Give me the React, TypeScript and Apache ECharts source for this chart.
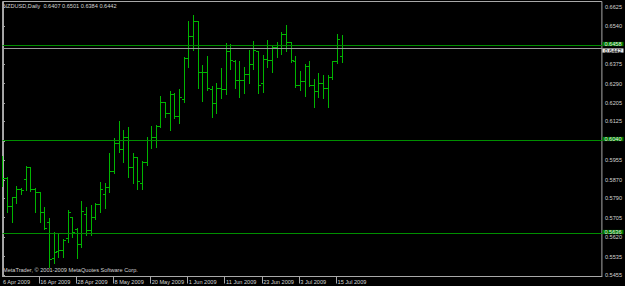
import React, { useEffect, useRef } from 'react';
import * as echarts from 'echarts';

const dates = [
  '6 Apr 2009','7 Apr 2009','8 Apr 2009','9 Apr 2009','10 Apr 2009','13 Apr 2009','14 Apr 2009','15 Apr 2009','16 Apr 2009','17 Apr 2009',
  '20 Apr 2009','21 Apr 2009','22 Apr 2009','23 Apr 2009','24 Apr 2009','27 Apr 2009','28 Apr 2009','29 Apr 2009','30 Apr 2009',
  '1 May 2009','4 May 2009','5 May 2009','6 May 2009','7 May 2009','8 May 2009','11 May 2009','12 May 2009','13 May 2009','14 May 2009','15 May 2009',
  '18 May 2009','19 May 2009','20 May 2009','21 May 2009','22 May 2009','25 May 2009','26 May 2009','27 May 2009','28 May 2009','29 May 2009',
  '1 Jun 2009','2 Jun 2009','3 Jun 2009','4 Jun 2009','5 Jun 2009','8 Jun 2009','9 Jun 2009','10 Jun 2009','11 Jun 2009','12 Jun 2009',
  '15 Jun 2009','16 Jun 2009','17 Jun 2009','18 Jun 2009','19 Jun 2009','22 Jun 2009','23 Jun 2009','24 Jun 2009','25 Jun 2009','26 Jun 2009',
  '29 Jun 2009','30 Jun 2009','1 Jul 2009','2 Jul 2009','3 Jul 2009','6 Jul 2009','7 Jul 2009','8 Jul 2009','9 Jul 2009','10 Jul 2009',
  '13 Jul 2009','14 Jul 2009','15 Jul 2009','16 Jul 2009',
];

const opens = [
  0.5940, 0.5878, 0.5752, 0.5791, 0.5830, 0.5870, 0.5922, 0.5826, 0.5813, 0.5726,
  0.5686, 0.5525, 0.5555, 0.5560, 0.5616, 0.5704, 0.5655, 0.5586, 0.5717, 0.5647,
  0.5704, 0.5761, 0.5804, 0.5835, 0.5905, 0.6027, 0.6001, 0.6057, 0.5922, 0.5966,
  0.5852, 0.5948, 0.6040, 0.6057, 0.6105, 0.6206, 0.6158, 0.6245, 0.6145, 0.6219,
  0.6400, 0.6494, 0.6560, 0.6341, 0.6341, 0.6263, 0.6202, 0.6267, 0.6263, 0.6429,
  0.6389, 0.6306, 0.6302, 0.6332, 0.6376, 0.6429, 0.6289, 0.6394, 0.6390, 0.6450,
  0.6459, 0.6507, 0.6470, 0.6385, 0.6280, 0.6298, 0.6363, 0.6284, 0.6258, 0.6293,
  0.6271, 0.6315, 0.6385, 0.6407,
];
const highs = [
  0.5975, 0.5883, 0.5795, 0.5844, 0.5835, 0.5931, 0.5926, 0.5835, 0.5817, 0.5752,
  0.5704, 0.5643, 0.5638, 0.5613, 0.5739, 0.5708, 0.5660, 0.5778, 0.5752, 0.5761,
  0.5769, 0.5861, 0.5857, 0.5988, 0.6053, 0.6127, 0.6088, 0.6101, 0.5988, 0.5970,
  0.5953, 0.6057, 0.6105, 0.6110, 0.6236, 0.6210, 0.6258, 0.6250, 0.6267, 0.6407,
  0.6564, 0.6590, 0.6564, 0.6372, 0.6411, 0.6280, 0.6293, 0.6359, 0.6468, 0.6463,
  0.6394, 0.6389, 0.6363, 0.6437, 0.6477, 0.6433, 0.6415, 0.6481, 0.6459, 0.6472,
  0.6516, 0.6546, 0.6474, 0.6411, 0.6346, 0.6376, 0.6389, 0.6311, 0.6337, 0.6328,
  0.6328, 0.6389, 0.6507, 0.6501,
];
const lows = [
  0.5844, 0.5730, 0.5686, 0.5769, 0.5808, 0.5826, 0.5822, 0.5730, 0.5686, 0.5655,
  0.5490, 0.5508, 0.5534, 0.5534, 0.5600, 0.5621, 0.5530, 0.5578, 0.5629, 0.5629,
  0.5700, 0.5730, 0.5747, 0.5817, 0.5900, 0.5992, 0.5948, 0.5883, 0.5857, 0.5830,
  0.5830, 0.5935, 0.6009, 0.6014, 0.6101, 0.6145, 0.6088, 0.6140, 0.6119, 0.6210,
  0.6363, 0.6437, 0.6271, 0.6215, 0.6263, 0.6145, 0.6162, 0.6228, 0.6245, 0.6354,
  0.6271, 0.6232, 0.6250, 0.6293, 0.6354, 0.6250, 0.6254, 0.6363, 0.6341, 0.6407,
  0.6420, 0.6433, 0.6385, 0.6276, 0.6263, 0.6236, 0.6280, 0.6188, 0.6232, 0.6228,
  0.6188, 0.6310, 0.6380, 0.6384,
];
const closes = [
  0.5878, 0.5752, 0.5791, 0.5830, 0.5822, 0.5922, 0.5826, 0.5813, 0.5726, 0.5658,
  0.5521, 0.5551, 0.5560, 0.5604, 0.5726, 0.5640, 0.5586, 0.5730, 0.5651, 0.5704,
  0.5761, 0.5826, 0.5835, 0.5905, 0.6027, 0.6001, 0.6057, 0.5922, 0.5966, 0.5861,
  0.5948, 0.6040, 0.6057, 0.6105, 0.6206, 0.6158, 0.6245, 0.6145, 0.6228, 0.6400,
  0.6494, 0.6560, 0.6341, 0.6341, 0.6267, 0.6202, 0.6267, 0.6263, 0.6429, 0.6390,
  0.6306, 0.6302, 0.6332, 0.6376, 0.6437, 0.6284, 0.6394, 0.6390, 0.6450, 0.6459,
  0.6507, 0.6470, 0.6390, 0.6280, 0.6298, 0.6363, 0.6284, 0.6258, 0.6293, 0.6271,
  0.6315, 0.6385, 0.6485, 0.6442,
];

const xTickIndex = [0, 8, 16, 24, 32, 40, 48, 56, 64, 72];
const yTickValues = [0.5455, 0.5535, 0.5620, 0.5705, 0.5790, 0.5870, 0.5955, 0.6040, 0.6125, 0.6205, 0.6290, 0.6375, 0.6458, 0.6540, 0.6625];
const yLabelValues = [0.5455, 0.5535, 0.5620, 0.5705, 0.5790, 0.5870, 0.5955, 0.6125, 0.6205, 0.6290, 0.6375, 0.6540, 0.6625];
const levelLines = [0.6458, 0.6040, 0.5636];
const bidPrice = 0.6442;
const titleText = 'NZDUSD,Daily  0.6407 0.6501 0.6384 0.6442';
const copyrightText = 'MetaTrader, \u00a9 2001-2009 MetaQuotes Software Corp.';

const BAR = '#00b400';
const LEVEL = '#008e00';
const BID = '#9a9a9a';
const FRAME = '#a8a8a8';
const TXT = '#d4d4d4';
const FONT = 'Liberation Sans';
const FS = 5.6;

export default function App() {
  const ref = useRef<HTMLDivElement>(null);
  useEffect(() => {
    if (!ref.current) return;
    const chart = echarts.init(ref.current, undefined, { renderer: 'svg' });
    const data = dates.map((_, i) => [i, opens[i], highs[i], lows[i], closes[i]]);
    const levelData = levelLines.map((v) => [0, v]).concat([[0, bidPrice]]);
    const bidIndex = levelLines.length;
    chart.setOption({
      animation: false,
      backgroundColor: '#000000',
      textStyle: { fontFamily: FONT },
      grid: { left: 1.5, top: 1.5, right: 21.5, bottom: 9.5, show: true, borderColor: FRAME, borderWidth: 1 },
      xAxis: {
        type: 'value', min: -0.1, max: 128.9,
        axisLine: { show: true, lineStyle: { color: FRAME, width: 1 } },
        axisTick: { show: true, length: 7, inside: false, customValues: xTickIndex.map((i) => i - 0.3), lineStyle: { color: FRAME } },
        axisLabel: {
          show: true, customValues: xTickIndex, formatter: (v: number) => dates[Math.round(v)] || '',
          align: 'left', margin: 2, color: TXT, fontSize: FS, fontFamily: FONT,
        },
        splitLine: { show: false },
      },
      yAxis: {
        type: 'value', position: 'right', min: 0.5448, max: 0.6649,
        axisLine: { show: true, lineStyle: { color: FRAME, width: 1 } },
        axisTick: { show: true, length: 2, inside: false, customValues: yTickValues, lineStyle: { color: FRAME } },
        axisLabel: {
          show: true, customValues: yLabelValues, formatter: (v: number) => v.toFixed(4),
          margin: 3, color: TXT, fontSize: FS, fontFamily: FONT,
        },
        splitLine: { show: false },
      },
      graphic: [
        { type: 'text', left: 3, top: 3, style: { text: titleText, fill: TXT, fontSize: FS, fontFamily: FONT } },
        { type: 'text', left: 3, top: 267, style: { text: copyrightText, fill: TXT, fontSize: FS, fontFamily: FONT } },
      ],
      series: [
        {
          type: 'custom',
          z: 2,
          data,
          encode: { x: 0, y: [1, 2, 3, 4] },
          clip: true,
          renderItem: (params: any, api: any) => {
            const i = api.value(0);
            const o = api.coord([i, api.value(1)]);
            const h = api.coord([i, api.value(2)]);
            const l = api.coord([i, api.value(3)]);
            const c = api.coord([i, api.value(4)]);
            const xc = Math.round(o[0] - 0.5) + 0.5;
            const yo = Math.round(o[1] - 0.5) + 0.5;
            const yc = Math.round(c[1] - 0.5) + 0.5;
            const style = { stroke: BAR, lineWidth: 1 };
            return {
              type: 'group',
              children: [
                { type: 'line', shape: { x1: xc, y1: Math.round(h[1]), x2: xc, y2: Math.round(l[1]) + 1 }, style },
                { type: 'line', shape: { x1: xc - 2.5, y1: yo, x2: xc - 0.5, y2: yo }, style },
                { type: 'line', shape: { x1: xc + 0.5, y1: yc, x2: xc + 2.5, y2: yc }, style },
              ],
            };
          },
        },
        {
          type: 'custom',
          z: 3,
          data: levelData,
          encode: { x: 0, y: 1 },
          clip: false,
          renderItem: (params: any, api: any) => {
            const v = api.value(1);
            const isBid = params.dataIndex === bidIndex;
            const cs = params.coordSys;
            const y = Math.round(api.coord([0, v])[1] - 0.5) + 0.5;
            const stroke = isBid ? BID : LEVEL;
            return {
              type: 'group',
              z2: isBid ? 10 : 1,
              children: [
                { type: 'line', shape: { x1: cs.x, y1: y, x2: cs.x + cs.width, y2: y }, style: { stroke, fill: null, lineWidth: 1 } },
                {
                  type: 'text', x: cs.x + cs.width + 0.5, y: isBid ? y + 2 : y - 1.5,
                  z2: isBid ? 10 : 1,
                  style: {
                    text: v.toFixed(4), fill: isBid ? '#000000' : '#e6f0e6',
                    backgroundColor: isBid ? '#e4e4e4' : '#007a00',
                    padding: [0, 2, 0, 2], lineHeight: 4.2, fontSize: FS, fontFamily: FONT,
                    align: 'left', verticalAlign: 'middle',
                  },
                },
              ],
            };
          },
        },
      ],
    });
    return () => chart.dispose();
  }, []);
  return (
    <div style={{ position: 'fixed', left: 0, top: 0, width: 625, height: 286, background: '#000' }}>
      <div ref={ref} style={{ width: 625, height: 286 }} />
    </div>
  );
}
